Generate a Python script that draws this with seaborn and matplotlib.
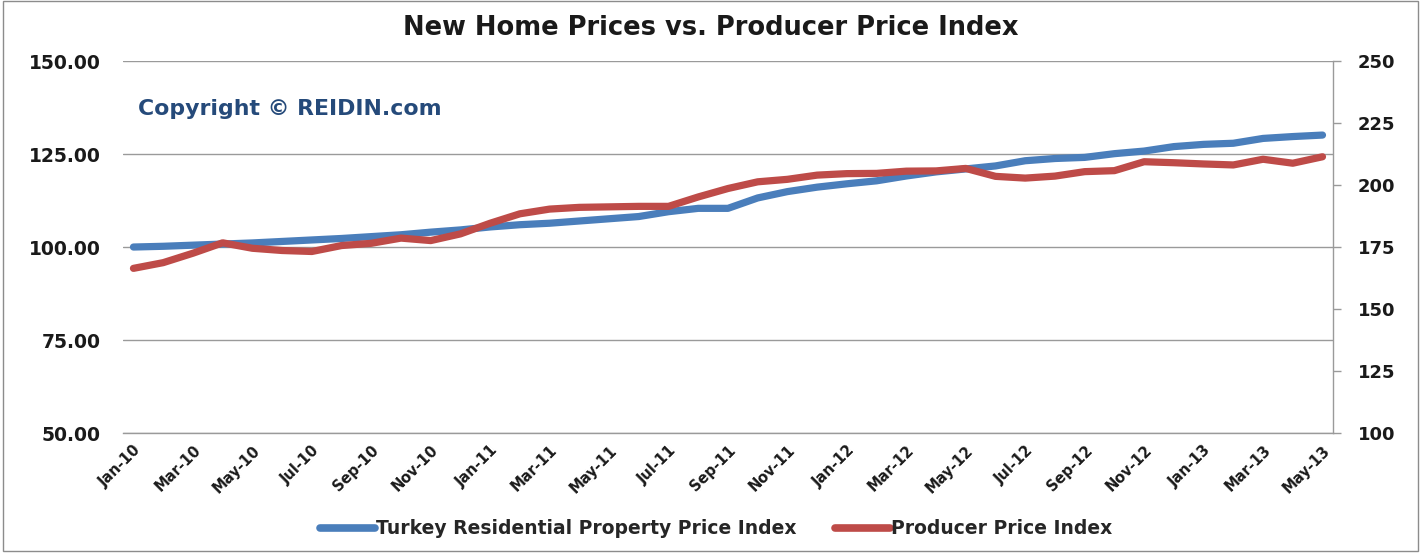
import matplotlib
matplotlib.use("Agg")
import matplotlib.pyplot as plt
import seaborn as sns
import pandas as pd
from matplotlib.lines import Line2D
from matplotlib.patches import Rectangle

# monthly values, Jan-10 .. May-13
months = pd.date_range("2010-01-01", "2013-05-01", freq="MS").strftime("%b-%y").tolist()
home_index = [100.0, 100.2, 100.5, 100.8, 101.1, 101.5, 101.9, 102.3, 102.8, 103.3,
              104.0, 104.6, 105.4, 106.0, 106.4, 107.0, 107.6, 108.2, 109.5, 110.4,
              110.4, 113.2, 114.9, 116.1, 117.0, 117.8, 119.1, 120.2, 121.0, 121.8,
              123.2, 123.8, 124.1, 125.1, 125.8, 127.0, 127.6, 127.9, 129.2, 129.7,
              130.1]
ppi = [166.4, 168.7, 172.5, 176.7, 174.5, 173.6, 173.2, 175.6, 176.5, 178.6,
       177.6, 180.3, 184.6, 188.4, 190.3, 191.0, 191.2, 191.4, 191.4, 195.2,
       198.6, 201.3, 202.3, 204.0, 204.6, 204.7, 205.6, 205.7, 206.7, 203.5,
       202.8, 203.6, 205.4, 205.8, 209.4, 209.0, 208.5, 208.1, 210.4, 208.8,
       211.4]
left_ticks = [50, 75, 100, 125, 150]
right_ticks = [100, 125, 150, 175, 200, 225, 250]

blue = "#4A7EBB"
red = "#BE4B48"
grid_col = "#9A9A9A"

sns.set_theme(style="white")
plt.rcParams["font.family"] = ["DejaVu Sans"]
plt.rcParams["font.weight"] = "bold"

df = pd.DataFrame({"idx": range(len(months)), "home": home_index, "ppi": ppi})

fig = plt.figure(figsize=(14.21, 5.55), dpi=100)
ax = fig.add_axes([0.0866, 0.2198, 0.8514, 0.6702])
ax2 = ax.twinx()

sns.lineplot(data=df, x="idx", y="home", ax=ax, color=blue, linewidth=5.2,
             solid_capstyle="round")
sns.lineplot(data=df, x="idx", y="ppi", ax=ax2, color=red, linewidth=5.2,
             solid_capstyle="round")

ax.set_xlim(-0.35, 40.35)
ax.set_ylim(50, 150)
ax2.set_ylim(100, 250)
ax.set_yticks(left_ticks)
ax.set_yticklabels([f"{v:.2f}" for v in left_ticks], fontsize=13.5, fontweight="bold")
ax2.set_yticks(right_ticks)
ax2.set_yticklabels([str(v) for v in right_ticks], fontsize=13, fontweight="bold")
ax.set_xticks(df["idx"][::2])
ax.set_xticklabels(months[::2], rotation=45, ha="right", rotation_mode="anchor",
                   fontsize=10.5, fontweight="bold")
ax.set_xlabel("")
ax.set_ylabel("")
ax2.set_ylabel("")

ax.grid(axis="y", color=grid_col, linewidth=1.0)
ax.set_axisbelow(True)
for a in (ax, ax2):
    for s in ["top", "left", "bottom"]:
        a.spines[s].set_visible(False)
ax.spines["bottom"].set_visible(True)
ax.spines["bottom"].set_color(grid_col)
ax.spines["bottom"].set_linewidth(1.0)
ax.spines["right"].set_visible(False)
ax2.spines["right"].set_color(grid_col)
ax2.spines["right"].set_linewidth(1.0)

ax.tick_params(axis="y", length=0, pad=16, colors="#1a1a1a")
ax.tick_params(axis="x", length=0, pad=7, colors="#1a1a1a")
ax2.tick_params(axis="y", length=6, width=1, color=grid_col, pad=12,
                labelcolor="#1a1a1a", direction="out")
ax2.yaxis.set_ticks_position("right")

fig.text(0.5, 0.949, "New Home Prices vs. Producer Price Index", ha="center",
         va="center", fontsize=18.5, fontweight="bold", color="#1a1a1a")
ax.text(0.012, 0.87, "Copyright \u00a9 REIDIN.com", transform=ax.transAxes,
        fontsize=15.8, fontweight="bold", color="#254A7A", va="center")

handles = [Line2D([0], [0], color=blue, lw=5.5, solid_capstyle="round"),
           Line2D([0], [0], color=red, lw=5.5, solid_capstyle="round")]
fig.legend(handles, ["Turkey Residential Property Price Index", "Producer Price Index"],
           loc="center", bbox_to_anchor=(0.504, 0.047), ncol=2, frameon=False,
           handlelength=2.9, handletextpad=0.05, columnspacing=2.1,
           prop={"size": 13.5, "weight": "bold"})

fig.patches.append(Rectangle((0.002, 0.008), 0.996, 0.99, transform=fig.transFigure,
                             fill=False, edgecolor="#8c8c8c", linewidth=1.0))

fig.savefig("out.png", dpi=100, facecolor="white")
